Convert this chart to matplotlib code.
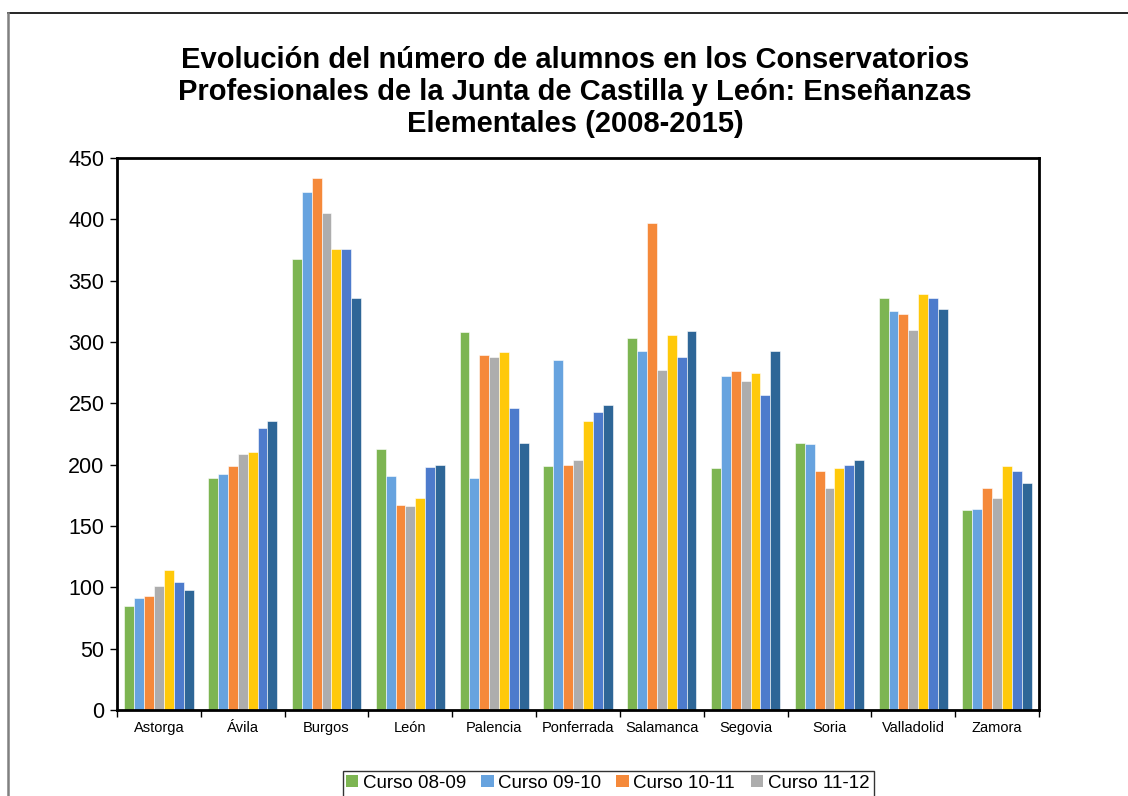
import matplotlib
matplotlib.use("Agg")
import matplotlib.pyplot as plt
import numpy as np
from matplotlib.patches import Patch
from matplotlib.lines import Line2D

plt.rcParams['font.family'] = ['Liberation Sans', 'DejaVu Sans']

categories = ["Astorga", "Ávila", "Burgos", "León", "Palencia", "Ponferrada",
              "Salamanca", "Segovia", "Soria", "Valladolid", "Zamora"]
series_names = ["Curso 08-09", "Curso 09-10", "Curso 10-11", "Curso 11-12",
                "Curso 12-13", "Curso 13-14", "Curso 14-15"]
curso_08_09 = [85, 189, 368, 213, 308, 199, 303, 197, 218, 336, 163]
curso_09_10 = [91, 192, 422, 191, 189, 285, 293, 272, 217, 325, 164]
curso_10_11 = [93, 199, 434, 167, 289, 200, 397, 276, 195, 323, 181]
curso_11_12 = [101, 209, 405, 166, 288, 204, 277, 268, 181, 310, 173]
curso_12_13 = [114, 210, 376, 173, 292, 236, 306, 275, 197, 339, 199]
curso_13_14 = [104, 230, 376, 198, 246, 243, 288, 257, 200, 336, 195]
curso_14_15 = [98, 236, 336, 200, 218, 249, 309, 293, 204, 327, 185]
series_values = [curso_08_09, curso_09_10, curso_10_11, curso_11_12,
                 curso_12_13, curso_13_14, curso_14_15]
colors = ["#7DB552", "#67A3DF", "#F5893A", "#ADADAD", "#FFC90A", "#4D7BCC", "#2E6697"]
yticks = [0, 50, 100, 150, 200, 250, 300, 350, 400, 450]

W, H = 1128, 796
fig = plt.figure(figsize=(W / 100, H / 100), dpi=100)

# outer chart border (top and left visible)
fig.add_artist(Line2D([8 / W, 1.0], [1 - 13 / H, 1 - 13 / H], transform=fig.transFigure,
                      color="black", lw=1.2))
fig.add_artist(Line2D([8 / W, 8 / W], [1 - 13 / H, 0.0], transform=fig.transFigure,
                      color="#808080", lw=1.8))

left, right, top, bottom = 117, 1039, 158, 710
ax = fig.add_axes([left / W, 1 - bottom / H, (right - left) / W, (bottom - top) / H])

x = np.arange(len(categories))
n = len(series_values)
bw = 0.118
for i, (name, vals, c) in enumerate(zip(series_names, series_values, colors)):
    offs = (i - (n - 1) / 2) * bw
    ax.bar(x + offs, vals, width=bw, color=c, label=name, edgecolor="white", linewidth=0.4)

ax.set_xlim(-0.5, len(categories) - 0.5)
ax.set_ylim(0, 450)
ax.set_yticks(yticks)
ax.set_yticklabels([str(t) for t in yticks], fontsize=15.5)
ax.set_xticks(x)
ax.set_xticklabels(categories, fontsize=10.5)
ax.tick_params(axis='x', length=0, pad=8)
ax.set_xticks(np.arange(-0.5, len(categories), 1.0), minor=True)
ax.tick_params(axis='x', which='minor', length=5, width=1, direction='out')
ax.tick_params(axis='y', length=5, width=1, direction='out', pad=4)
for s in ax.spines.values():
    s.set_linewidth(2)
    s.set_color("black")

fig.text(575 / W, 1 - 92 / H,
         "Evolución del número de alumnos en los Conservatorios\n"
         "Profesionales de la Junta de Castilla y León: Enseñanzas\n"
         "Elementales (2008-2015)",
         ha="center", va="center", fontsize=21, fontweight="bold", linespacing=1.2)

handles = [Patch(facecolor=c, edgecolor="none") for c in colors]
order = [0, 4, 1, 5, 2, 6, 3]
leg = fig.legend([handles[i] for i in order], [series_names[i] for i in order],
                 ncol=4, loc="upper center", bbox_to_anchor=(608 / W, 1 - 771 / H),
                 bbox_transform=fig.transFigure, fontsize=13.5, frameon=True,
                 fancybox=False, edgecolor="black", handlelength=0.65, handleheight=0.65,
                 handletextpad=0.25, columnspacing=0.8, borderpad=0.2, borderaxespad=0)
leg.get_frame().set_linewidth(1.0)

fig.savefig("out.png", dpi=100)
